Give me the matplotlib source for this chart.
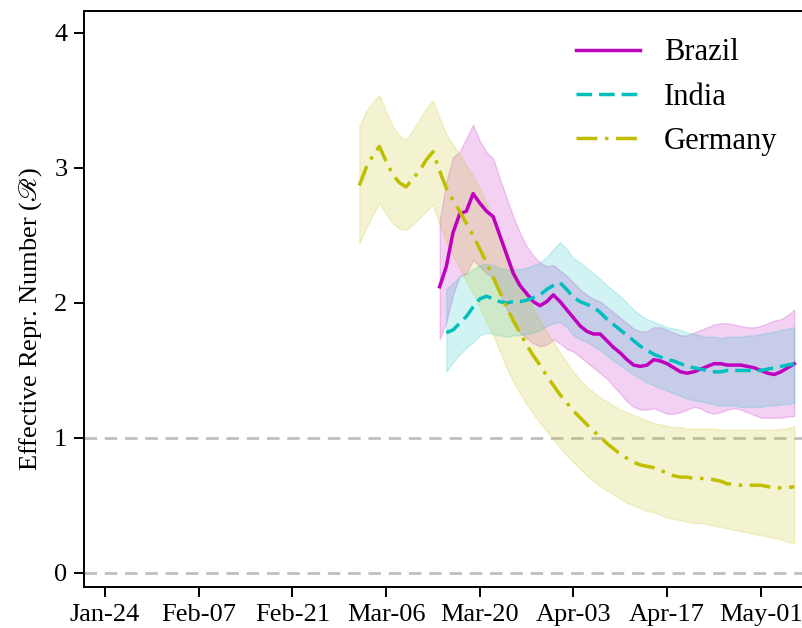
import matplotlib
matplotlib.use("Agg")
import matplotlib.pyplot as plt
import numpy as np
import pandas as pd

plt.rcParams['font.family'] = ['Liberation Serif', 'DejaVu Serif']
plt.rcParams['mathtext.fontset'] = 'stix'

# ---------------- data ----------------
germany_start = "2020-03-02"
germany_mean = [2.87, 3.00, 3.09, 3.16, 3.05, 2.95, 2.89, 2.86, 2.92, 2.98, 3.06, 3.12,
                2.98, 2.85, 2.76, 2.68, 2.59, 2.50, 2.40, 2.30, 2.19, 2.08, 1.97, 1.87,
                1.78, 1.69, 1.61, 1.54, 1.46, 1.39, 1.32, 1.26, 1.20, 1.15, 1.10, 1.05,
                1.01, 0.96, 0.92, 0.88, 0.85, 0.82, 0.80, 0.79, 0.78, 0.76, 0.74, 0.72,
                0.71, 0.71, 0.70, 0.70, 0.70, 0.69, 0.68, 0.66, 0.66, 0.65, 0.65, 0.65,
                0.65, 0.64, 0.63, 0.63, 0.63, 0.64]
germany_lower = [2.44, 2.55, 2.65, 2.74, 2.66, 2.59, 2.55, 2.54, 2.58, 2.63, 2.68, 2.73,
                 2.58, 2.45, 2.35, 2.26, 2.16, 2.07, 1.97, 1.86, 1.76, 1.64, 1.52, 1.42,
                 1.33, 1.25, 1.18, 1.11, 1.05, 0.99, 0.93, 0.87, 0.82, 0.77, 0.72, 0.68,
                 0.64, 0.61, 0.58, 0.55, 0.52, 0.50, 0.48, 0.46, 0.45, 0.43, 0.41, 0.40,
                 0.39, 0.38, 0.37, 0.37, 0.36, 0.35, 0.34, 0.33, 0.32, 0.31, 0.30, 0.29,
                 0.28, 0.27, 0.26, 0.25, 0.23, 0.22]
germany_upper = [3.31, 3.42, 3.49, 3.54, 3.42, 3.31, 3.24, 3.21, 3.28, 3.36, 3.44, 3.50,
                 3.37, 3.25, 3.17, 3.10, 3.02, 2.94, 2.85, 2.74, 2.62, 2.50, 2.38, 2.26,
                 2.15, 2.05, 1.96, 1.87, 1.79, 1.71, 1.63, 1.56, 1.49, 1.43, 1.38, 1.34,
                 1.30, 1.27, 1.24, 1.21, 1.19, 1.17, 1.15, 1.13, 1.11, 1.10, 1.09, 1.08,
                 1.08, 1.07, 1.07, 1.07, 1.07, 1.07, 1.06, 1.06, 1.06, 1.06, 1.06, 1.06,
                 1.06, 1.06, 1.06, 1.07, 1.07, 1.09]

brazil_start = "2020-03-14"
brazil_mean = [2.12, 2.27, 2.52, 2.66, 2.68, 2.81, 2.74, 2.68, 2.64, 2.50, 2.36, 2.22,
               2.13, 2.07, 2.01, 1.98, 2.01, 2.06, 2.01, 1.95, 1.89, 1.83, 1.79, 1.77,
               1.77, 1.72, 1.67, 1.63, 1.58, 1.54, 1.53, 1.54, 1.58, 1.57, 1.55, 1.52,
               1.49, 1.48, 1.49, 1.51, 1.53, 1.55, 1.55, 1.54, 1.54, 1.54, 1.53, 1.52,
               1.50, 1.48, 1.47, 1.49, 1.52, 1.55]
brazil_lower = [1.73, 1.86, 2.06, 2.20, 2.22, 2.32, 2.27, 2.22, 2.19, 2.07, 1.96, 1.85,
                1.78, 1.74, 1.70, 1.68, 1.69, 1.73, 1.70, 1.66, 1.64, 1.60, 1.56, 1.52,
                1.48, 1.44, 1.38, 1.33, 1.27, 1.23, 1.21, 1.21, 1.22, 1.20, 1.18, 1.18,
                1.19, 1.21, 1.23, 1.22, 1.19, 1.18, 1.19, 1.21, 1.22, 1.21, 1.19, 1.17,
                1.15, 1.15, 1.15, 1.15, 1.16, 1.16]
brazil_upper = [2.61, 2.90, 3.08, 3.12, 3.22, 3.32, 3.20, 3.12, 3.07, 2.92, 2.78, 2.64,
                2.52, 2.42, 2.35, 2.30, 2.27, 2.28, 2.24, 2.20, 2.15, 2.10, 2.06, 2.03,
                2.01, 1.97, 1.93, 1.89, 1.85, 1.81, 1.79, 1.79, 1.82, 1.82, 1.80, 1.78,
                1.76, 1.76, 1.78, 1.80, 1.82, 1.84, 1.85, 1.85, 1.84, 1.83, 1.82, 1.82,
                1.83, 1.85, 1.87, 1.88, 1.91, 1.95]

india_start = "2020-03-15"
india_mean = [1.78, 1.80, 1.85, 1.90, 1.97, 2.03, 2.05, 2.03, 2.01, 2.00, 2.01, 2.01,
              2.02, 2.04, 2.06, 2.10, 2.13, 2.15, 2.10, 2.04, 2.01, 1.99, 1.97, 1.93,
              1.88, 1.84, 1.80, 1.76, 1.72, 1.68, 1.65, 1.62, 1.60, 1.58, 1.57, 1.55,
              1.53, 1.52, 1.51, 1.50, 1.49, 1.49, 1.50, 1.50, 1.50, 1.50, 1.50, 1.50,
              1.51, 1.52, 1.53, 1.54, 1.55]
india_lower = [1.49, 1.56, 1.62, 1.67, 1.71, 1.76, 1.78, 1.77, 1.76, 1.75, 1.76, 1.76,
               1.77, 1.78, 1.80, 1.83, 1.85, 1.86, 1.82, 1.76, 1.73, 1.71, 1.68, 1.65,
               1.61, 1.57, 1.54, 1.50, 1.47, 1.44, 1.41, 1.39, 1.37, 1.35, 1.33, 1.31,
               1.29, 1.28, 1.27, 1.26, 1.25, 1.24, 1.24, 1.24, 1.23, 1.23, 1.23, 1.23,
               1.24, 1.24, 1.25, 1.25, 1.26]
india_upper = [2.10, 2.15, 2.19, 2.22, 2.25, 2.28, 2.29, 2.28, 2.26, 2.25, 2.25, 2.25,
               2.26, 2.28, 2.30, 2.34, 2.40, 2.45, 2.40, 2.33, 2.30, 2.26, 2.22, 2.18,
               2.13, 2.09, 2.05, 2.00, 1.95, 1.91, 1.88, 1.86, 1.84, 1.82, 1.81, 1.80,
               1.78, 1.77, 1.76, 1.75, 1.75, 1.74, 1.75, 1.75, 1.75, 1.76, 1.76, 1.77,
               1.78, 1.79, 1.80, 1.81, 1.82]

tick_dates = ["2020-01-24", "2020-02-07", "2020-02-21", "2020-03-06",
              "2020-03-20", "2020-04-03", "2020-04-17", "2020-05-01"]
tick_labels = ["Jan-24", "Feb-07", "Feb-21", "Mar-06", "Mar-20", "Apr-03", "Apr-17", "May-01"]
y_ticks = [0, 1, 2, 3, 4]
ref_lines = [0, 1]

# ---------------- plot ----------------
fig = plt.figure(figsize=(8.03, 6.28), dpi=100)
ax = fig.add_axes([0.1046, 0.0653, 0.8954, 0.9172])

series = [
    ("Brazil", brazil_start, brazil_mean, brazil_lower, brazil_upper, 'm', '-'),
    ("India", india_start, india_mean, india_lower, india_upper, 'c', (0, (4.5, 2.0))),
    ("Germany", germany_start, germany_mean, germany_lower, germany_upper, 'y', (0, (6, 2.2, 1, 2.2))),
]

for name, start, mean, lo, hi, col, ls in series:
    d = pd.date_range(start, periods=len(mean), freq="D")
    ax.fill_between(d, lo, hi, color=col, alpha=0.18, linewidth=1, edgecolor=col)

for name, start, mean, lo, hi, col, ls in series:
    d = pd.date_range(start, periods=len(mean), freq="D")
    ax.plot(d, mean, color=col, linestyle=ls, linewidth=2.5, label=name)

for r in ref_lines:
    ax.axhline(r, color='gray', alpha=0.5, linewidth=2, linestyle=(0, (4.5, 2.8)), zorder=0.5)

base = pd.Timestamp("2020-01-24")
ax.set_xlim(base - pd.Timedelta(days=3.14), base + pd.Timedelta(days=104.3))
ax.set_ylim(-0.104, 4.163)

ax.set_xticks([pd.Timestamp(t) for t in tick_dates])
ax.set_xticklabels(tick_labels)
ax.set_yticks(y_ticks)

ax.tick_params(axis='both', labelsize=19, length=7, width=1.4, direction='out', pad=5)
for s in ['left', 'bottom', 'top']:
    ax.spines[s].set_linewidth(1.4)
ax.spines['right'].set_visible(False)

ax.set_ylabel(r"Effective Repr. Number ($\mathscr{R}$)", fontsize=19)
ax.yaxis.set_label_coords(-0.055, 0.465)

leg = ax.legend(loc='upper right', bbox_to_anchor=(1.003, 1.0), frameon=False,
                fontsize=22, handlelength=2.1, handletextpad=0.8, labelspacing=0.5)

fig.savefig("out.png", dpi=100)
